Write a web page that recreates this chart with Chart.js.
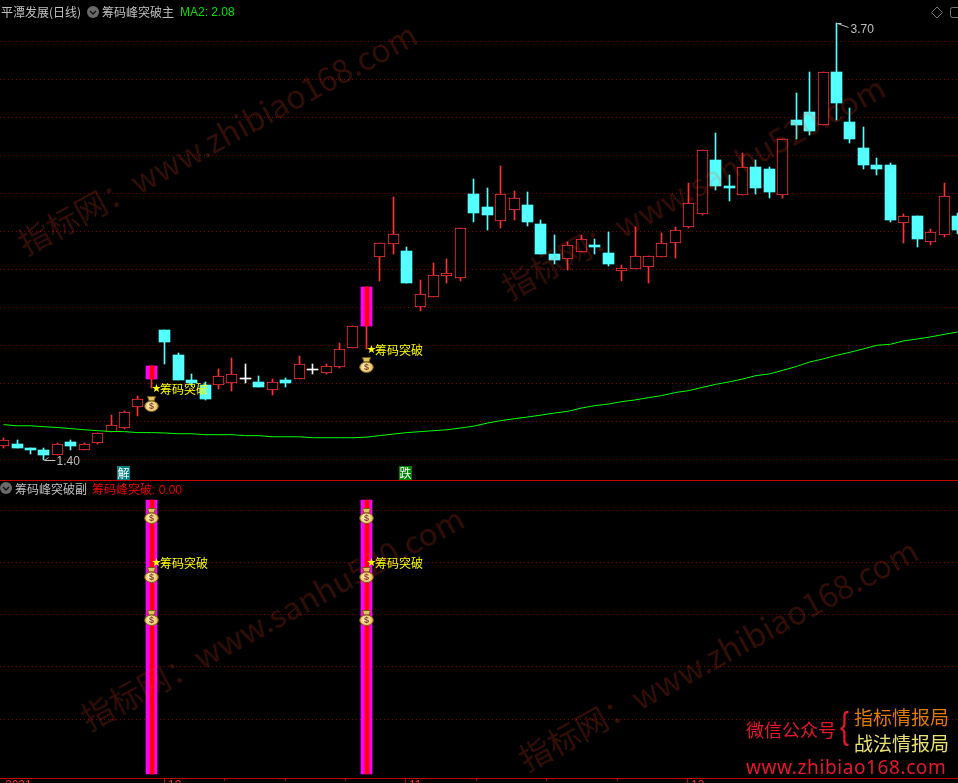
<!DOCTYPE html>
<html lang="zh">
<head>
<meta charset="UTF-8">
<title>筹码峰突破</title>
<script src="https://cdn.jsdelivr.net/npm/chart.js"></script>
<style>
html, body { margin: 0; padding: 0; background: #000; overflow: hidden; }
body { width: 958px; height: 783px; position: relative; font-family: "Noto Sans CJK SC", sans-serif; }
canvas { position: absolute; left: 0; display: block; }
#mainChart { top: 0; }
#subChart { top: 481px; }
.t { position: absolute; white-space: nowrap; font-size: 12px; line-height: 14px; color: #c0c0c0; }
.num { font-family: "Liberation Sans", sans-serif; }
.wm { position: absolute; white-space: nowrap; font-size: 32px; line-height: 32px; color: rgba(252, 70, 35, 0.2);
      transform-origin: 0 100%; transform: rotate(-28.5deg); pointer-events: none; }
.line { position: absolute; left: 0; width: 958px; height: 1px; background: #c80000; }
.tag { position: absolute; width: 13px; height: 14px; font-size: 12px; line-height: 14px; color: #fff; text-align: center; }
svg { position: absolute; }
</style>
</head>
<body>
<canvas id="mainChart" width="958" height="480"></canvas>
<canvas id="subChart" width="958" height="302"></canvas>

<div class="line" style="top:480px"></div>

<div class="t" style="left:1px;top:5px">平潭发展(日线)</div>
<svg style="left:87px;top:6px" width="12" height="12"><circle cx="6" cy="6" r="6" fill="#6a6a6a"/><path d="M3 5l3 3 3-3" stroke="#111" stroke-width="1.4" fill="none"/></svg>
<div class="t" style="left:102px;top:5px">筹码峰突破主</div>
<div class="t num" style="left:180px;top:5px;color:#00e000">MA2: 2.08</div>
<svg style="left:931px;top:6px" width="27" height="13"><path d="M6 1l5.5 5.5L6 12 .5 6.5z" stroke="#777" fill="none"/><rect x="19.5" y="1.5" width="12" height="10" rx="2" stroke="#777" fill="none"/></svg>

<div class="t" style="left:15px;top:482px">筹码峰突破副</div>
<svg style="left:0;top:482px" width="12" height="12"><circle cx="6" cy="6" r="6" fill="#6a6a6a"/><path d="M3 5l3 3 3-3" stroke="#111" stroke-width="1.4" fill="none"/></svg>
<div class="t" style="left:92px;top:482px;color:#f00000">筹码峰突破<span class="num">: 0.00</span></div>

<div class="tag" style="left:117px;top:466px;background:#008080">解</div>
<div class="tag" style="left:399px;top:466px;background:#008000">跌</div>

<div class="wm" style="left:27px;top:226px">指标网：www.zhibiao168.com</div>
<div class="wm" style="left:511px;top:270px">指标网：www.sanhu520.com</div>
<div class="wm" style="left:90px;top:701px">指标网：www.sanhu520.com</div>
<div class="wm" style="left:528px;top:742px">指标网：www.zhibiao168.com</div>

<div class="t" style="left:746px;top:719px;font-size:18px;line-height:20px;color:#e8172c">微信公众号</div>
<div class="t num" style="left:840px;top:705px;font-size:36px;line-height:42px;color:#e8172c;transform:scaleX(0.75);transform-origin:0 0">{</div>
<div class="t" style="left:854px;top:707px;font-size:19px;line-height:20px;color:#e07b00">指标情报局</div>
<div class="t" style="left:854px;top:733px;font-size:19px;line-height:20px;color:#e8e070">战法情报局</div>
<div class="t" style="left:746px;top:756px;font-family:'Noto Sans',sans-serif;font-size:19px;line-height:22px;letter-spacing:0.6px;color:#e8172c">www.zhibiao168.com</div>

<script>
// K-line values
const opens = [1.475,1.481,1.460,1.449,1.423,1.491,1.454,1.486,1.544,1.565,1.676,1.824,2.082,1.950,1.818,1.792,1.792,1.803,1.829,1.808,1.766,1.818,1.824,1.876,
  1.855,1.887,1.987,2.103,2.467,2.536,2.499,2.204,2.257,2.367,2.357,2.800,2.731,2.657,2.716,2.742,2.642,2.483,2.457,2.494,2.531,2.489,2.394,2.404,
  2.415,2.467,2.541,2.626,2.694,2.979,2.842,2.795,2.942,2.932,2.795,3.191,3.233,3.164,3.444,3.180,3.043,2.953,2.953,2.647,2.684,2.547,2.584,2.684];
const highs = [1.512,1.502,1.460,1.460,1.486,1.502,1.486,1.539,1.634,1.655,1.734,1.892,2.082,1.961,1.850,1.808,1.876,1.934,1.903,1.839,1.824,1.829,1.945,1.903,
  1.903,2.014,2.103,2.309,2.541,2.784,2.520,2.346,2.436,2.457,2.621,2.879,2.832,2.947,2.816,2.811,2.663,2.584,2.547,2.584,2.562,2.600,2.425,2.626,
  2.473,2.594,2.626,2.858,3.032,3.122,2.900,3.016,2.979,2.942,3.090,3.333,3.444,3.444,3.702,3.254,3.154,2.990,2.964,2.694,2.684,2.615,2.858,2.700];
const lows = [1.460,1.460,1.428,1.400,1.423,1.449,1.449,1.481,1.544,1.560,1.628,1.776,1.903,1.818,1.787,1.713,1.771,1.761,1.803,1.781,1.739,1.781,1.824,1.850,
  1.850,1.882,1.987,1.982,2.341,2.483,2.330,2.183,2.257,2.330,2.341,2.652,2.610,2.621,2.663,2.631,2.483,2.431,2.399,2.494,2.483,2.420,2.341,2.404,
  2.330,2.467,2.462,2.621,2.689,2.821,2.763,2.795,2.800,2.779,2.779,3.090,3.111,3.164,3.191,3.069,2.932,2.900,2.652,2.541,2.520,2.531,2.573,2.589];
const closes = [1.502,1.460,1.449,1.423,1.481,1.470,1.481,1.539,1.581,1.650,1.718,1.892,2.019,1.818,1.803,1.718,1.839,1.850,1.829,1.781,1.808,1.803,1.903,1.876,
  1.892,1.982,2.103,2.309,2.541,2.589,2.330,2.272,2.373,2.383,2.621,2.700,2.689,2.800,2.779,2.652,2.483,2.452,2.531,2.562,2.520,2.431,2.409,2.473,
  2.473,2.541,2.610,2.752,3.032,2.842,2.832,2.942,2.832,2.811,3.090,3.164,3.132,3.444,3.280,3.090,2.953,2.932,2.663,2.684,2.562,2.600,2.789,2.610];
const ma2 = [1.585,1.579,1.579,1.574,1.570,1.564,1.558,1.553,1.549,1.548,1.543,1.543,1.541,1.537,1.537,1.532,1.532,1.532,1.527,1.527,1.521,1.521,1.521,1.516,
  1.516,1.516,1.516,1.519,1.527,1.535,1.543,1.548,1.553,1.558,1.567,1.577,1.593,1.606,1.616,1.625,1.635,1.646,1.655,1.672,1.685,1.693,1.706,1.715,
  1.727,1.738,1.754,1.764,1.781,1.797,1.810,1.825,1.843,1.852,1.871,1.891,1.915,1.931,1.950,1.966,1.984,2.003,2.008,2.026,2.036,2.047,2.060,2.073];

const priceGrid = [1.4,1.6,1.8,2.0,2.2,2.4,2.6,2.8,3.0,3.2,3.4,3.6];
const subGrid = [0.2,0.4,0.6,0.8,1.0];

// breakout days and the marks that go with them
const breakoutDays = [11, 27];
const bagPrices = [1.692, 1.897];
const starPrices = [1.771, 1.977];
const subBarLow = -0.012;
const subBarHigh = 1.042;
const subBagValues = [0.981, 0.754, 0.588];
const subStarValue = 0.8;
const breakoutText = '筹码突破';

// date axis under the lower pane
const axisTicks = [11.92, 16.39, 20.94, 25.4, 29.87, 35.2, 40.4, 45.7, 50.9];
const axisMajor = [
  { at: -0.2, text: '2021' }, { at: 11.92, text: '10' }, { at: 29.87, text: '11' }, { at: 50.9, text: '12' }
];

const UP = '#ff3232', DOWN = '#54ffff', FLAT = '#ffffff';
const days = opens.map((_, i) => i);

function candleColor(i) {
  if (opens[i] === closes[i]) return FLAT;
  return closes[i] > opens[i] ? UP : DOWN;
}

// little money bag, drawn once and stamped at each signal
function makeBag() {
  const c = document.createElement('canvas');
  c.width = 15; c.height = 16;
  const g = c.getContext('2d');
  g.strokeStyle = '#7a5a18';
  g.fillStyle = '#e2c25c';
  g.beginPath();
  g.moveTo(3.5, 0.5); g.lineTo(11.5, 0.5); g.lineTo(10, 5); g.lineTo(5, 5); g.closePath();
  g.fill(); g.stroke();
  const grad = g.createRadialGradient(6, 9, 1, 7.5, 10.5, 7);
  grad.addColorStop(0, '#fff6c4');
  grad.addColorStop(1, '#e6b94a');
  g.fillStyle = grad;
  g.beginPath();
  g.ellipse(7.5, 10.2, 6.8, 5.3, 0, 0, Math.PI * 2);
  g.fill(); g.stroke();
  g.fillStyle = '#8a3a28';
  g.font = 'bold 9px "Liberation Sans"';
  g.textAlign = 'center';
  g.textBaseline = 'middle';
  g.fillText('$', 7.5, 10.7);
  return c;
}
const bagIcon = makeBag();

function stampBag(ctx, x, y) {
  ctx.drawImage(bagIcon, Math.floor(x) - 7, Math.round(y) - 8);
}

// the source chart has no anti-aliasing on its candles, so put bars on whole pixels
const snapBars = {
  id: 'snapBars',
  afterDatasetsUpdate(chart) {
    chart.getSortedVisibleDatasetMetas().forEach(meta => {
      if (meta.type !== 'bar') return;
      meta.data.forEach(el => {
        const w = Math.round(el.width);
        el.x = Math.floor(el.x) + (w % 2 ? 0.5 : 1);
        const top = Math.round(el.y);
        let bottom = Math.round(el.base);
        if (bottom <= top) bottom = top + 1;
        el.y = top; el.base = bottom; el.height = bottom - top;
      });
    });
  }
};

function drawStarText(ctx, x, y) {
  ctx.textBaseline = 'middle';
  ctx.textAlign = 'left';
  ctx.fillStyle = '#ffff00';
  ctx.font = '11px "DejaVu Sans"';
  ctx.fillText('★', x - 0.5, y);
  ctx.font = '12px "Noto Sans CJK SC"';
  ctx.fillText(breakoutText, x + 8, y);
}

const mainLabels = {
  id: 'mainLabels',
  afterDatasetsDraw(chart) {
    const { ctx, scales: { x, y } } = chart;
    ctx.save();
    breakoutDays.forEach((d, k) => {
      stampBag(ctx, x.getPixelForValue(d), y.getPixelForValue(bagPrices[k]));
      drawStarText(ctx, Math.floor(x.getPixelForValue(d)) + 1, Math.round(y.getPixelForValue(starPrices[k])));
    });
    const loDay = lows.indexOf(Math.min(...lows));
    const hiDay = highs.indexOf(Math.max(...highs));
    const lx = Math.floor(x.getPixelForValue(loDay)) + 1.5, ly = Math.round(y.getPixelForValue(lows[loDay])) + 0.5;
    const hx = Math.floor(x.getPixelForValue(hiDay)) + 1.5, hy = Math.round(y.getPixelForValue(highs[hiDay])) + 0.5;
    ctx.strokeStyle = '#c0c0c0';
    ctx.lineWidth = 1;
    ctx.beginPath();
    ctx.moveTo(lx + 11, ly); ctx.lineTo(lx, ly); ctx.lineTo(lx + 4, ly - 3);
    ctx.moveTo(hx + 11, hy + 4); ctx.lineTo(hx, hy); ctx.lineTo(hx + 4, hy);
    ctx.stroke();
    ctx.fillStyle = '#c0c0c0';
    ctx.font = '12px "Liberation Sans"';
    ctx.textBaseline = 'middle';
    ctx.fillText(Math.min(...lows).toFixed(2), lx + 12, ly + 1);
    ctx.fillText(Math.max(...highs).toFixed(2), hx + 13, hy + 6);
    ctx.restore();
  }
};

const subLabels = {
  id: 'subLabels',
  afterDatasetsDraw(chart) {
    const { ctx, chartArea, scales: { x, y } } = chart;
    ctx.save();
    breakoutDays.forEach(d => {
      subBagValues.forEach(v => stampBag(ctx, x.getPixelForValue(d), y.getPixelForValue(v)));
      drawStarText(ctx, Math.floor(x.getPixelForValue(d)) + 1, Math.round(y.getPixelForValue(subStarValue)));
    });
    // date axis
    const axisY = chartArea.bottom - 5;
    ctx.strokeStyle = '#c80000';
    ctx.lineWidth = 1;
    ctx.beginPath();
    ctx.moveTo(0, axisY + 0.5); ctx.lineTo(958, axisY + 0.5);
    axisTicks.forEach(t => {
      const px = Math.round(x.getPixelForValue(t)) + 0.5;
      ctx.moveTo(px, axisY); ctx.lineTo(px, axisY + 3);
    });
    axisMajor.forEach(m => {
      if (m.at < 1) return;
      const px = Math.round(x.getPixelForValue(m.at)) + 0.5;
      ctx.moveTo(px, axisY); ctx.lineTo(px, chartArea.bottom);
    });
    ctx.stroke();
    ctx.fillStyle = '#ff3232';
    ctx.font = '12px "Liberation Sans"';
    ctx.textBaseline = 'top';
    ctx.textAlign = 'left';
    axisMajor.forEach(m => {
      ctx.fillText(m.text, Math.round(x.getPixelForValue(m.at)) + 4, axisY + 2);
    });
    ctx.restore();
  }
};

function hiddenX(xMin, xMax) {
  return { type: 'linear', min: xMin, max: xMax, display: false, offset: false };
}

function gridY(min, max, ticks) {
  return {
    type: 'linear', min, max, position: 'left',
    ticks: { display: false },
    border: { display: false, dash: [1, 3] },
    grid: { color: '#800000', lineWidth: 1, drawTicks: false },
    afterBuildTicks(scale) { scale.ticks = ticks.map(v => ({ value: v })); }
  };
}

const baseOptions = {
  responsive: false,
  animation: false,
  events: [],
  layout: { padding: 0, autoPadding: false },
  plugins: { legend: { display: false }, tooltip: { enabled: false } }
};

new Chart(document.getElementById('mainChart').getContext('2d'), {
  type: 'bar',
  data: {
    datasets: [
      {
        label: 'wick', order: 5, grouped: false, barThickness: 1,
        data: days.map(i => ({ x: i, y: [lows[i], highs[i]] })),
        backgroundColor: days.map(candleColor)
      },
      {
        label: 'body', order: 4, grouped: false, barThickness: 11, borderSkipped: false,
        data: days.map(i => ({ x: i, y: [opens[i], closes[i]] })),
        backgroundColor: days.map(i => candleColor(i) === UP ? '#000000' : candleColor(i)),
        borderColor: days.map(i => candleColor(i) === UP ? UP : 'rgba(0,0,0,0)'),
        borderWidth: days.map(i => candleColor(i) === UP ? 1 : 0)
      },
      {
        label: 'breakout', order: 3, grouped: false, barThickness: 11,
        data: breakoutDays.map(i => ({ x: i, y: [opens[i], closes[i]] })),
        backgroundColor: '#ff00ff'
      },
      {
        label: 'breakoutCore', order: 2, grouped: false, barThickness: 4,
        data: breakoutDays.map(i => ({ x: i, y: [opens[i], closes[i]] })),
        backgroundColor: '#ff0000'
      },
      {
        type: 'line', label: 'MA2', order: 1,
        data: days.map(i => ({ x: i, y: ma2[i] })),
        borderColor: '#00ff00', borderWidth: 1, pointRadius: 0, pointBorderWidth: 0, tension: 0
      }
    ]
  },
  options: {
    ...baseOptions,
    // the MA line takes half a pixel of overflow off the plot area
    scales: { x: hiddenX(-0.2683, 71.04), y: gridY(1.2934, 3.8211, priceGrid) }
  },
  plugins: [snapBars, mainLabels]
});

new Chart(document.getElementById('subChart').getContext('2d'), {
  type: 'bar',
  data: {
    datasets: [
      {
        label: 'signal', order: 3, grouped: false, barThickness: 11,
        data: breakoutDays.map(d => ({ x: d, y: [subBarLow, subBarHigh] })),
        backgroundColor: '#ff00ff'
      },
      {
        label: 'signalCore', order: 2, grouped: false, barThickness: 4,
        data: breakoutDays.map(d => ({ x: d, y: [subBarLow, subBarHigh] })),
        backgroundColor: '#ff0000'
      }
    ]
  },
  options: {
    ...baseOptions,
    scales: { x: hiddenX(-0.3055, 71.08), y: gridY(-0.046, 1.115, subGrid) }
  },
  plugins: [snapBars, subLabels]
});
</script>
</body>
</html>
